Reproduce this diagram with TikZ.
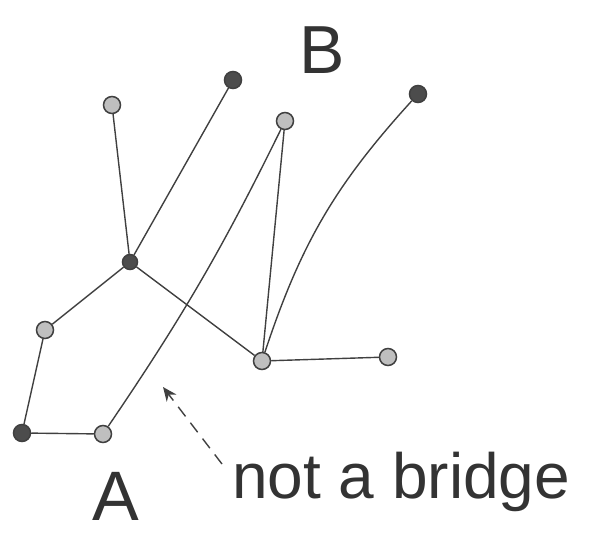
\documentclass[tikz,border=0pt]{standalone}
\usepackage{fontspec}
\setmainfont{Liberation Sans}
\usetikzlibrary{arrows.meta}
\begin{document}
\begin{tikzpicture}[x=1pt,y=-1pt,
  vtx/.style={circle,draw=black!75,line width=1.5pt,fill=black!25,inner sep=0pt,minimum size=17pt},
  dark/.style={vtx,fill=black!70},
  edge/.style={draw=black!75,line width=1.4pt},
  lbl/.style={text=black!80,inner sep=0pt}]
\useasboundingbox (0,0) rectangle (594,535);
\node[vtx] (n1) at (112,105) {};
\node[dark] (n2) at (233,80) {};
\node[vtx] (n3) at (285,121) {};
\node[dark] (n4) at (418,94) {};
\node[dark,minimum size=15pt] (n5) at (130,262) {};
\node[vtx] (n6) at (45,330) {};
\node[vtx] (n7) at (262,361) {};
\node[vtx] (n8) at (388,357) {};
\node[dark] (n9) at (22,433) {};
\node[vtx] (n10) at (103,434) {};
\draw[edge] (n1) -- (n5);
\draw[edge] (n2) -- (n5);
\draw[edge] (n5) -- (n6);
\draw[edge] (n5) -- (n7);
\draw[edge] (n6) -- (n9);
\draw[edge] (n9) -- (n10);
\draw[edge] (n10) to[bend right=4] (n3);
\draw[edge] (n3) -- (n7);
\draw[edge] (n7) to[bend left=12] (n4);
\draw[edge] (n7) -- (n8);
\node[lbl,font=\fontsize{68}{68}\selectfont] (B) at (322,50) {B};
\node[lbl,font=\fontsize{70}{70}\selectfont] (A) at (116,496) {A};
\node[lbl,anchor=base west,font=\fontsize{64}{64}\selectfont] (nb) at (232,498) {not a bridge};
\coordinate (tail) at (222,464);
\coordinate (head) at (163,387);
\draw[edge,dashed,dash pattern=on 12pt off 8pt,-{Stealth[length=14pt,width=12pt]}] (tail) -- (head);
\end{tikzpicture}
\end{document}
